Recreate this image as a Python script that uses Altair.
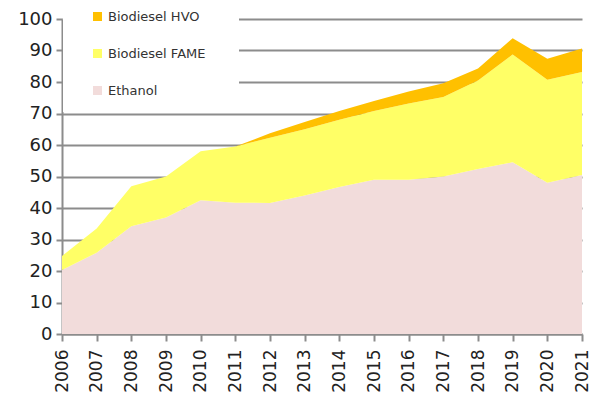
import altair as alt
import pandas as pd

years = list(range(2006, 2022))
ethanol = [20.3, 25.8, 34.2, 37.0, 42.5, 41.7, 41.6, 44.0, 46.7, 49.0, 49.0, 50.0, 52.4, 54.5, 48.0, 50.5]
fame = [4.5, 7.7, 12.7, 13.0, 15.5, 17.8, 20.7, 21.0, 21.3, 21.8, 24.2, 25.2, 28.1, 34.2, 32.7, 32.7]
hvo = [0, 0, 0, 0, 0, 0, 1.4, 2.3, 2.8, 3.2, 3.8, 4.4, 3.8, 5.2, 6.7, 7.4]

series_names = ["Biodiesel HVO", "Biodiesel FAME", "Ethanol"]
series_colors = ["#FFC000", "#FFFF66", "#F2DCDB"]
stack_rank = {"Ethanol": 0, "Biodiesel FAME": 1, "Biodiesel HVO": 2}

rows = []
for name, vals in [("Ethanol", ethanol), ("Biodiesel FAME", fame), ("Biodiesel HVO", hvo)]:
    for y, v in zip(years, vals):
        rows.append({"year": y, "fuel": name, "value": v, "rank": stack_rank[name]})
df = pd.DataFrame(rows)

font = "DejaVu Sans"
grey = "#8c8c8c"
pad_label = "\u2800" * 2

chart = alt.Chart(df).mark_area(opacity=1).encode(
    x=alt.X("year:Q",
            scale=alt.Scale(domain=[2006, 2021], nice=False, zero=False),
            axis=alt.Axis(values=years, format="d", labelAngle=270, title=None,
                          grid=False, domainColor=grey, domainWidth=2,
                          tickColor=grey, tickWidth=2, tickSize=7,
                          labelFont=font, labelFontSize=17, labelColor="#222222",
                          labelPadding=8, labelFlush=False)),
    y=alt.Y("value:Q", stack="zero",
            scale=alt.Scale(domain=[0, 100], nice=False),
            axis=alt.Axis(values=list(range(0, 101, 10)), title=None,
                          grid=True, gridColor=grey, gridWidth=2,
                          domainColor=grey, domainWidth=2,
                          tickColor=grey, tickWidth=2, tickSize=6,
                          labelFont=font, labelFontSize=18, labelColor="#222222",
                          labelPadding=4)),
    color=alt.Color("fuel:N",
                    scale=alt.Scale(domain=series_names, range=series_colors),
                    legend=alt.Legend(title=None, orient="none", legendX=1, legendY=-23,
                                      symbolType="square", symbolSize=81,
                                      symbolStrokeWidth=0, symbolOffset=14,
                                      labelFont=font, labelFontSize=13,
                                      labelColor="#333333", rowPadding=23,
                                      fillColor="white", padding=14,
                                      labelOffset=4,
                                      labelExpr="datum.label + '" + pad_label + "'")),
    order=alt.Order("rank:Q", sort="ascending"),
).properties(
    width=520, height=315,
    autosize=alt.AutoSizeParams(type="none"),
    padding={"left": 54, "top": 11, "right": 11, "bottom": 66},
).configure_view(stroke=None)

chart.save("out.html", embed_options={"renderer": "svg", "actions": False})
